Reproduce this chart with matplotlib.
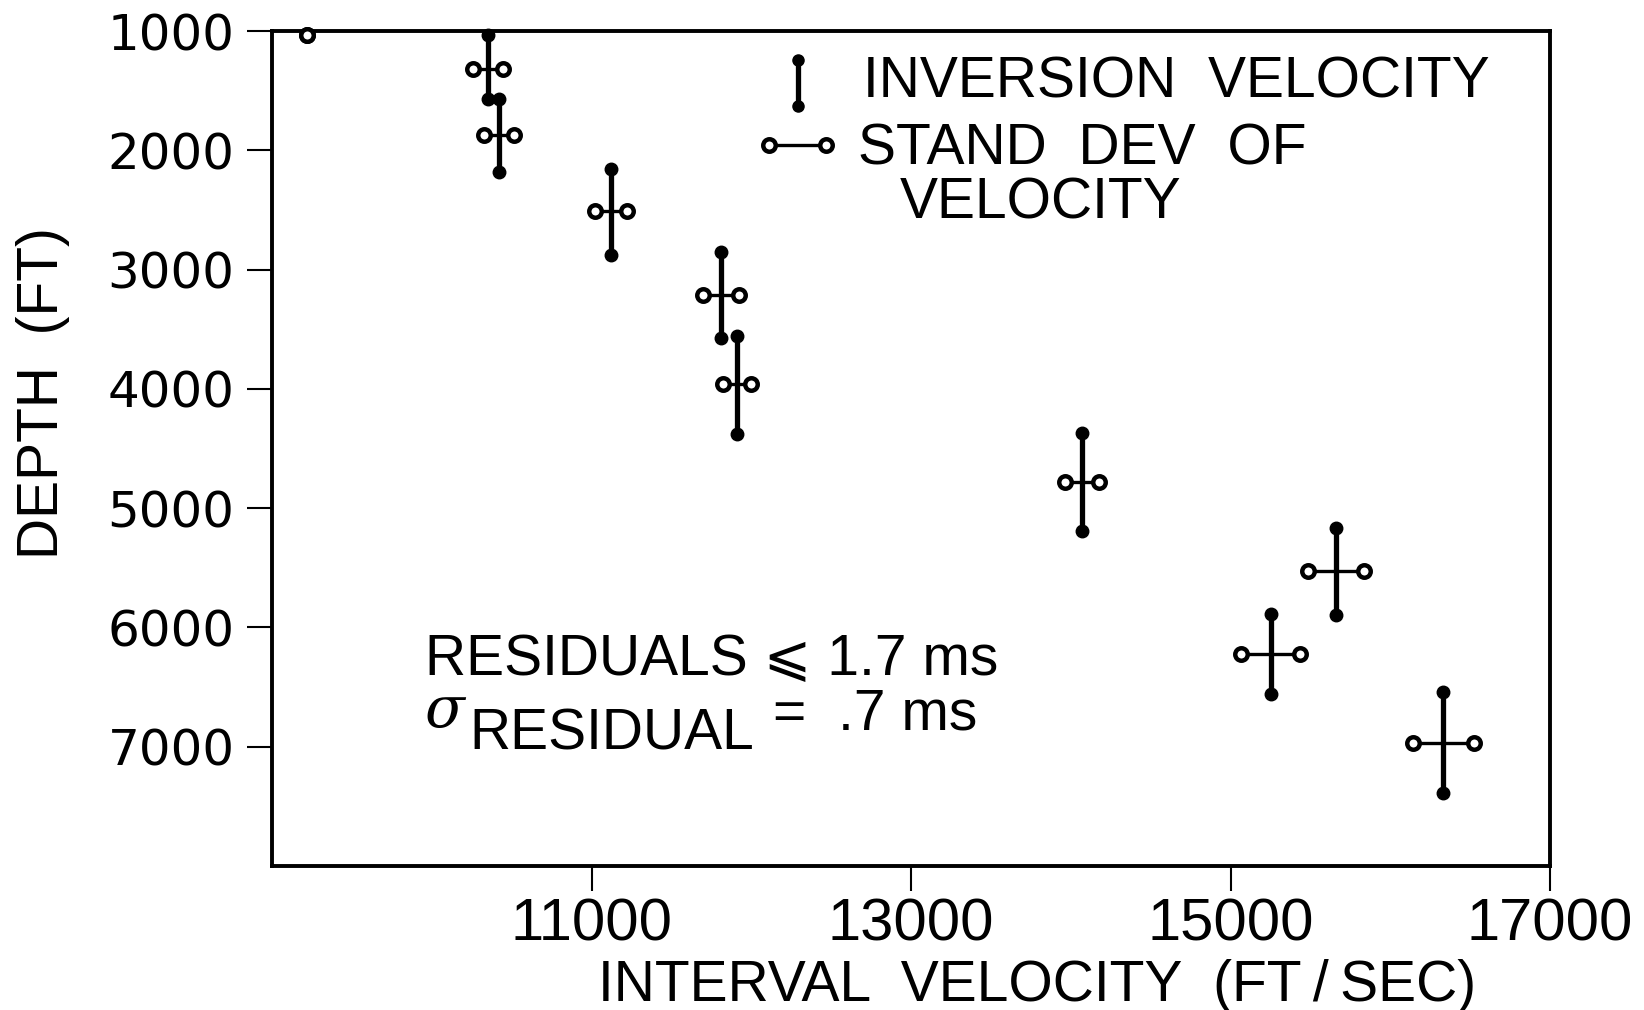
import numpy as np
import matplotlib
matplotlib.use('Agg')
from matplotlib import pyplot as plt

plt.rcParams['font.family'] = ['Liberation Sans', 'DejaVu Sans']

# interval velocity (ft/s) and depth (ft) of each layer
velocity = np.array([9220, 10350, 10420, 11120, 11810, 11910, 14070, 15660, 15250, 16330])
depth = np.array([1030, 1320, 1870, 2510, 3210, 3960, 4780, 5530, 6220, 6970])
# vertical extent of the inversion velocity bars
depth_top = np.array([np.nan, 1030, 1570, 2160, 2850, 3560, 4370, 5170, 5890, 6540])
depth_bot = np.array([np.nan, 1570, 2180, 2880, 3570, 4380, 5190, 5900, 6560, 7390])
# standard deviation of velocity
vel_sd = np.array([0, 95, 92, 99, 112, 89, 109, 174, 184, 191])

x_ticks = [11000, 13000, 15000, 17000]
y_ticks = [1000, 2000, 3000, 4000, 5000, 6000, 7000]

fig = plt.figure(figsize=(16.44, 10.10), dpi=100)
ax = fig.add_axes([0.1655, 0.1426, 0.7774, 0.8267])

# vertical bars (inversion velocity)
ax.vlines(velocity, depth_top, depth_bot, color='k', lw=3.8, zorder=3)
ax.plot(velocity, depth_top, 'o', color='k', ms=9, zorder=4, clip_on=False)
ax.plot(velocity, depth_bot, 'o', color='k', ms=9, zorder=4)

# horizontal bars (standard deviation)
ax.hlines(depth, velocity - vel_sd, velocity + vel_sd, color='k', lw=2.4, zorder=3)
for side in (-1, 1):
    ax.plot(velocity + side * vel_sd, depth, 'o', mfc='white', mec='k', mew=3.2,
            ms=9, zorder=5, clip_on=False)

ax.set_xlim(9000, 17000)
ax.set_ylim(8000, 1000)
ax.set_xticks(x_ticks)
ax.set_yticks(y_ticks)
ax.set_xticklabels([str(v) for v in x_ticks], fontsize=43)
ax.set_yticklabels([str(v) for v in y_ticks], fontsize=36, family='DejaVu Sans')
ax.tick_params(axis='x', length=18, width=1.5, pad=5)
ax.tick_params(axis='y', length=18, width=1.5, pad=9)
for s in ax.spines.values():
    s.set_linewidth(2.8)

# legend drawn by hand
ax.plot([0.4116, 0.4116], [0.9653, 0.9102], color='k', lw=3.8, marker='o', ms=8,
        transform=ax.transAxes)
ax.plot([0.3889, 0.4335], [0.8635, 0.8635], color='k', lw=2.4, marker='o', ms=9,
        mfc='white', mec='k', mew=3.2, transform=ax.transAxes)
ax.text(0.4624, 0.9198, 'INVERSION  VELOCITY', fontsize=41, va='baseline',
        transform=ax.transAxes)
ax.text(0.4585, 0.8407, 'STAND  DEV  OF', fontsize=41, va='baseline',
        transform=ax.transAxes)
ax.text(0.4914, 0.7749, 'VELOCITY', fontsize=41, va='baseline',
        transform=ax.transAxes)

# residual notes
ax.text(0.1200, 0.2287, 'RESIDUALS \u2a7d 1.7 ms', fontsize=41, va='baseline',
        transform=ax.transAxes)
ax.text(0.1190, 0.1660, '\u03c3', fontsize=42, va='baseline', family='DejaVu Serif',
        style='italic', transform=ax.transAxes)
ax.text(0.1540, 0.1389, 'RESIDUAL', fontsize=41, va='baseline', transform=ax.transAxes)
ax.text(0.392, 0.164, '=  .7 ms', fontsize=41, va='baseline', transform=ax.transAxes)

fig.text(0.3637, 0.009, 'INTERVAL  VELOCITY  (FT\u2009/\u2009SEC)', fontsize=41, va='baseline')
fig.text(0.026, 0.611, 'DEPTH  (FT)', fontsize=41, rotation=90, ha='center', va='center')

fig.savefig('out.png', dpi=100)
